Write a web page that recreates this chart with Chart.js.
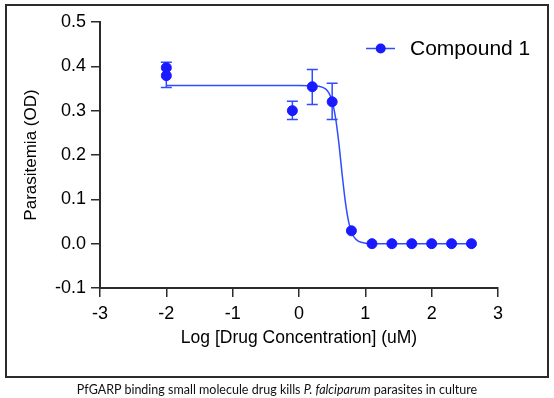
<!doctype html>
<html lang="en">
<head>
    <meta charset="UTF-8">
    <title>Compound 1 dose response</title>
    <script src="https://cdn.jsdelivr.net/npm/chart.js@4.4.1/dist/chart.umd.min.js"></script>
    <style>
        html, body {
            margin: 0;
            padding: 0;
            background: #fff;
        }
        .wrap {
            position: relative;
            width: 554px;
            height: 398px;
        }
        #chart {
            position: absolute;
            left: 0;
            top: 0;
        }
        .frame {
            position: absolute;
            left: 5px;
            top: 4px;
            width: 540px;
            height: 370px;
            border: 2px solid #2b2b2b;
        }
        .caption {
            position: absolute;
            left: 0;
            top: 382px;
            width: 554px;
            text-align: center;
            font-family: Lato, 'Open Sans', sans-serif;
            font-size: 12.5px;
            color: #111;
        }
    </style>
</head>
<body>
    <div class="wrap">
        <canvas id="chart" width="554" height="398"></canvas>
        <div class="frame"></div>
        <div class="caption">PfGARP binding small molecule drug kills <i>P. falciparum</i> parasites in culture</div>
    </div>
    <script>
        // measured points: log10 concentration (uM) vs OD
        var logConc = [-2, -2, -0.1, 0.2, 0.5, 0.79, 1.1, 1.4, 1.7, 2.0, 2.3, 2.6];
        var od = [0.397, 0.379, 0.300, 0.354, 0.320, 0.029, 0, 0, 0, 0, 0, 0];

        // error bars (SD)
        var errConc = [-2, -0.1, 0.2, 0.5];
        var errHigh = [0.409, 0.321, 0.393, 0.362];
        var errLow = [0.352, 0.280, 0.314, 0.280];

        // fitted curve
        var fitX = [-2, 0, 0.2, 0.3, 0.4, 0.45, 0.5, 0.55, 0.6, 0.65, 0.7, 0.75, 0.8, 0.85, 0.9, 1.0, 1.1, 2.6];
        var fitY = [0.357, 0.357, 0.356, 0.355, 0.349, 0.340, 0.321, 0.285, 0.228, 0.157, 0.093, 0.048, 0.023, 0.011, 0.005, 0.001, 0, 0];

        var xTicks = [-3, -2, -1, 0, 1, 2, 3];
        var yTicks = [-0.1, 0.0, 0.1, 0.2, 0.3, 0.4, 0.5];

        var blue = '#1a1aff';
        var lineBlue = '#2f4cff';
        var axisColor = '#2b2b2b';

        var points = logConc.map(function (x, i) { return {x: x, y: od[i]}; });
        var curve = fitX.map(function (x, i) { return {x: x, y: fitY[i]}; });

        var errorBars = {
            id: 'errorBars',
            beforeDatasetsDraw: function (chart) {
                var ctx = chart.ctx;
                var xs = chart.scales.x, ys = chart.scales.y;
                ctx.save();
                ctx.strokeStyle = lineBlue;
                ctx.lineWidth = 1.5;
                errConc.forEach(function (c, i) {
                    var px = xs.getPixelForValue(c);
                    var top = ys.getPixelForValue(errHigh[i]);
                    var bot = ys.getPixelForValue(errLow[i]);
                    ctx.beginPath();
                    ctx.moveTo(px, top); ctx.lineTo(px, bot);
                    ctx.moveTo(px - 5.5, top); ctx.lineTo(px + 5.5, top);
                    ctx.moveTo(px - 5.5, bot); ctx.lineTo(px + 5.5, bot);
                    ctx.stroke();
                });
                ctx.restore();
            }
        };

        // legend as in the figure: line with a dot through it
        var lineLegend = {
            id: 'lineLegend',
            afterDraw: function (chart) {
                var ctx = chart.ctx;
                var ds = chart.data.datasets[0];
                var y = 48.5;
                ctx.save();
                ctx.strokeStyle = lineBlue;
                ctx.lineWidth = 1.5;
                ctx.beginPath();
                ctx.moveTo(366, y); ctx.lineTo(395, y);
                ctx.stroke();
                ctx.fillStyle = blue;
                ctx.beginPath();
                ctx.arc(380.7, y, 5, 0, Math.PI * 2);
                ctx.fill();
                ctx.fillStyle = '#000';
                ctx.font = '21px "Liberation Sans", Arial, sans-serif';
                ctx.textBaseline = 'middle';
                ctx.fillText(ds.label, 410, y + 1);
                ctx.restore();
            }
        };

        Chart.defaults.font.family = '"Liberation Sans", Arial, sans-serif';
        Chart.defaults.color = '#000';

        new Chart(document.getElementById('chart'), {
            type: 'scatter',
            data: {
                datasets: [{
                    label: 'Compound 1',
                    data: points,
                    backgroundColor: blue,
                    borderColor: blue,
                    pointRadius: 5,
                    pointHoverRadius: 5,
                    showLine: false,
                    order: 0
                }, {
                    label: 'fit',
                    data: curve,
                    borderColor: lineBlue,
                    borderWidth: 1.5,
                    pointRadius: 0,
                    showLine: true,
                    cubicInterpolationMode: 'monotone',
                    order: 1
                }]
            },
            options: {
                responsive: false,
                animation: false,
                layout: {padding: {left: 21, right: 56, top: 22, bottom: 49}},
                plugins: {
                    legend: {display: false},
                    tooltip: {enabled: false}
                },
                scales: {
                    x: {
                        type: 'linear',
                        min: -3, max: 3,
                        afterBuildTicks: function (s) { s.ticks = xTicks.map(function (v) { return {value: v}; }); },
                        afterFit: function (s) { s.height = 61; },
                        grid: {drawOnChartArea: false, drawTicks: true, tickLength: 9, tickColor: axisColor, lineWidth: 1.5},
                        border: {display: true, color: axisColor, width: 2},
                        ticks: {font: {size: 18}, padding: 6, callback: function (v) { return v; }},
                        title: {display: true, text: 'Log [Drug Concentration] (uM)', font: {size: 17.5}, padding: 0}
                    },
                    y: {
                        type: 'linear',
                        min: -0.1, max: 0.5,
                        afterBuildTicks: function (s) { s.ticks = yTicks.map(function (v) { return {value: v}; }); },
                        afterFit: function (s) { s.width = 79; },
                        grid: {drawOnChartArea: false, drawTicks: true, tickLength: 9, tickColor: axisColor, lineWidth: 1.5},
                        border: {display: true, color: axisColor, width: 2},
                        ticks: {font: {size: 18}, padding: 5, callback: function (v) { return v.toFixed(1); }},
                        title: {display: true, text: 'Parasitemia (OD)', font: {size: 17}, padding: 0}
                    }
                }
            },
            plugins: [errorBars, lineLegend]
        });
    </script>
</body>
</html>
